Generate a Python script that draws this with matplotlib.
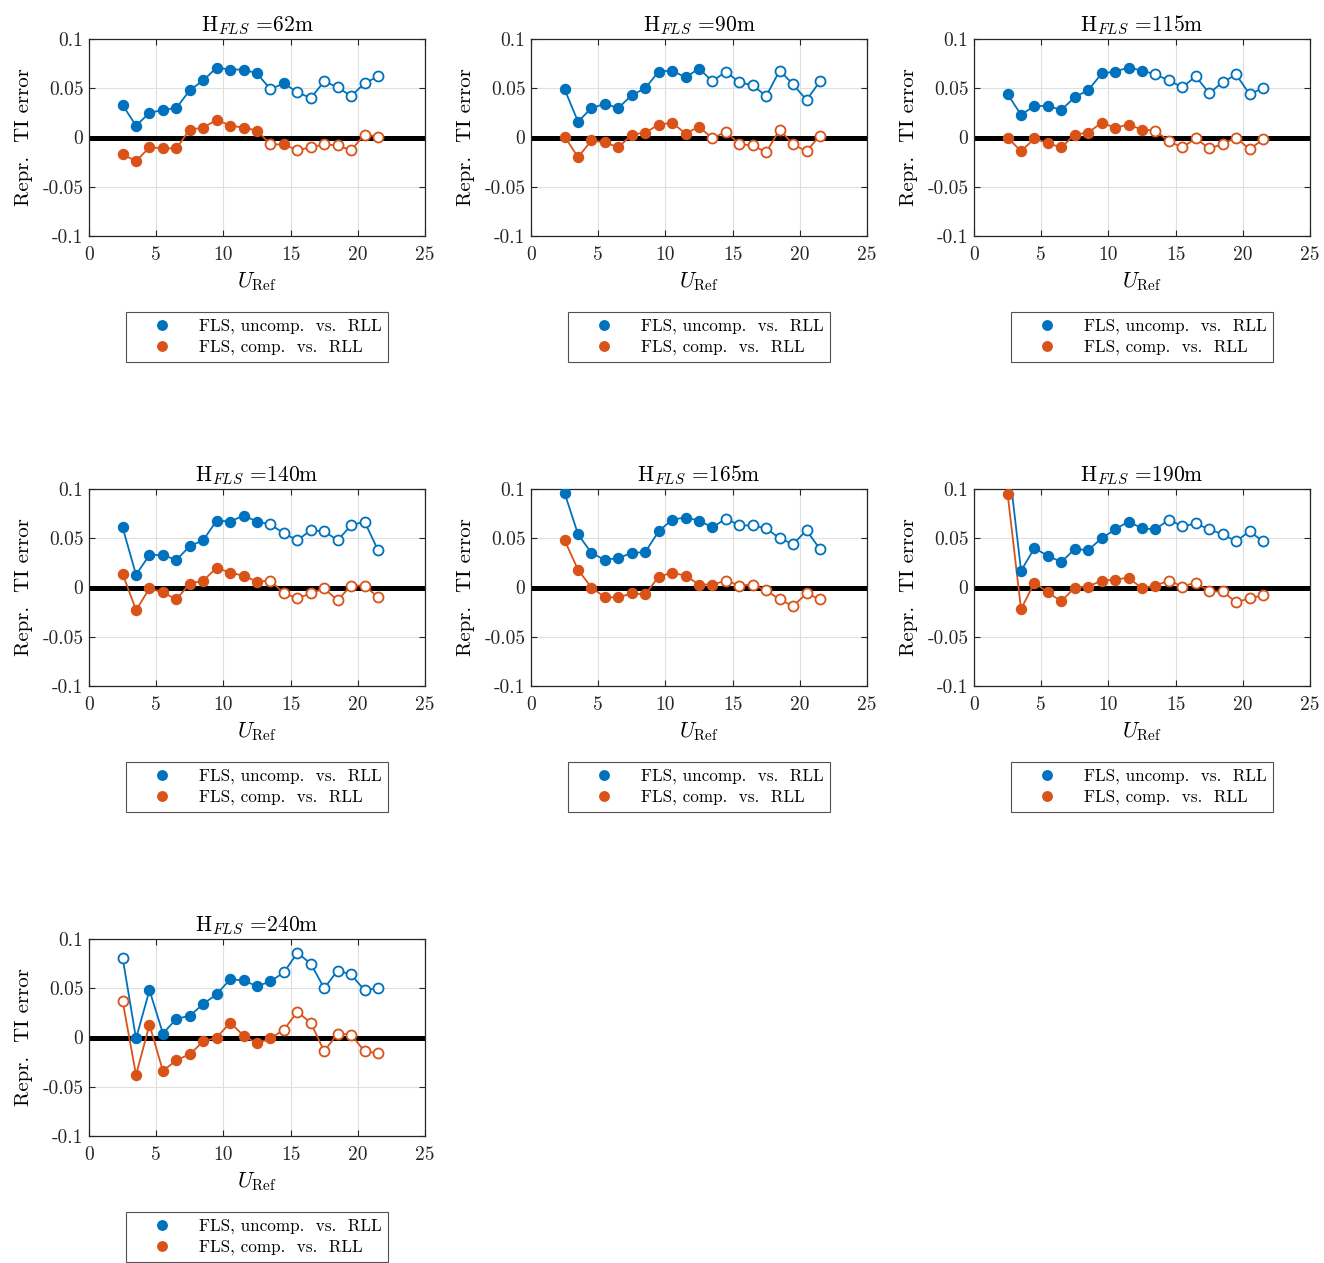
import numpy as np
import matplotlib
matplotlib.use('Agg')
import matplotlib.pyplot as plt
from matplotlib.lines import Line2D
from matplotlib.ticker import FuncFormatter

plt.rcParams['font.family'] = 'cmr10'
plt.rcParams['mathtext.fontset'] = 'cm'
plt.rcParams['axes.unicode_minus'] = False
plt.rcParams['axes.formatter.use_mathtext'] = True

BLUE = '#0072BD'
ORANGE = '#D95319'

# wind speed bins
u_ref = [2.5, 3.5, 4.5, 5.5, 6.5, 7.5, 8.5, 9.5, 10.5, 11.5,
         12.5, 13.5, 14.5, 15.5, 16.5, 17.5, 18.5, 19.5, 20.5, 21.5]

heights = [62, 90, 115, 140, 165, 190, 240]

# FLS, uncompensated vs RLL
uncomp = [
    [0.033, 0.012, 0.025, 0.028, 0.030, 0.048, 0.058, 0.071, 0.069, 0.069,
     0.065, 0.049, 0.055, 0.046, 0.040, 0.057, 0.051, 0.042, 0.055, 0.062],
    [0.049, 0.016, 0.030, 0.034, 0.030, 0.043, 0.050, 0.067, 0.068, 0.061,
     0.070, 0.057, 0.067, 0.056, 0.053, 0.042, 0.068, 0.054, 0.038, 0.057],
    [0.044, 0.023, 0.032, 0.032, 0.028, 0.041, 0.048, 0.065, 0.067, 0.071,
     0.068, 0.064, 0.058, 0.051, 0.062, 0.045, 0.056, 0.064, 0.044, 0.050],
    [0.061, 0.013, 0.033, 0.033, 0.028, 0.042, 0.048, 0.068, 0.067, 0.073,
     0.067, 0.064, 0.055, 0.048, 0.058, 0.057, 0.048, 0.063, 0.067, 0.038],
    [0.096, 0.054, 0.035, 0.028, 0.030, 0.035, 0.036, 0.057, 0.069, 0.071,
     0.068, 0.061, 0.070, 0.063, 0.063, 0.060, 0.050, 0.044, 0.058, 0.039],
    [0.135, 0.017, 0.040, 0.032, 0.026, 0.039, 0.038, 0.050, 0.059, 0.067,
     0.060, 0.059, 0.069, 0.062, 0.065, 0.059, 0.054, 0.047, 0.057, 0.047],
    [0.081, -0.001, 0.048, 0.004, 0.019, 0.022, 0.034, 0.044, 0.059, 0.058,
     0.052, 0.057, 0.066, 0.086, 0.075, 0.050, 0.068, 0.064, 0.048, 0.050],
]

# FLS, compensated vs RLL
comp = [
    [-0.017, -0.024, -0.010, -0.011, -0.011, 0.008, 0.010, 0.018, 0.012, 0.010,
     0.007, -0.007, -0.007, -0.013, -0.010, -0.007, -0.008, -0.013, 0.003, 0.001],
    [0.001, -0.020, -0.003, -0.005, -0.010, 0.003, 0.005, 0.013, 0.015, 0.004,
     0.011, -0.001, 0.006, -0.007, -0.008, -0.015, 0.008, -0.007, -0.014, 0.002],
    [0.000, -0.014, -0.001, -0.006, -0.010, 0.003, 0.005, 0.015, 0.010, 0.013,
     0.008, 0.007, -0.004, -0.010, -0.001, -0.011, -0.007, 0.000, -0.012, -0.002],
    [0.014, -0.023, -0.001, -0.005, -0.012, 0.004, 0.007, 0.020, 0.015, 0.012,
     0.006, 0.007, -0.006, -0.011, -0.006, -0.001, -0.013, 0.002, 0.002, -0.010],
    [0.048, 0.018, 0.000, -0.010, -0.010, -0.006, -0.007, 0.011, 0.015, 0.012,
     0.003, 0.003, 0.007, 0.002, 0.003, -0.003, -0.012, -0.019, -0.006, -0.012],
    [0.095, -0.022, 0.005, -0.005, -0.014, 0.000, 0.001, 0.007, 0.008, 0.010,
     -0.001, 0.002, 0.007, 0.001, 0.005, -0.004, -0.004, -0.015, -0.011, -0.008],
    [0.037, -0.038, 0.013, -0.034, -0.023, -0.017, -0.004, 0.000, 0.015, 0.002,
     -0.006, -0.001, 0.008, 0.026, 0.015, -0.014, 0.004, 0.003, -0.014, -0.016],
]

# which bins are drawn with filled markers
filled = [
    [1] * 11 + [0, 1] + [0] * 7,
    [1] * 11 + [0] * 9,
    [1] * 11 + [0] * 9,
    [1] * 11 + [0] * 9,
    [1] * 12 + [0] * 8,
    [1] * 12 + [0] * 8,
    [0] + [1] * 11 + [0] * 8,
]

W, H = 1324, 1263
fig = plt.figure(figsize=(W / 100, H / 100), dpi=100)

col_left = [89, 531, 974]
row_top = [39, 489, 939]
ax_w, ax_h = 336, 197


def draw_series(ax, x, y, mask, color):
    x = np.array(x)
    y = np.array(y)
    m = np.array(mask, dtype=bool)
    ax.plot(x, y, '-', color=color, lw=1.3, zorder=3)
    ax.plot(x[m], y[m], 'o', color=color, ms=7.2, mec=color, zorder=4)
    ax.plot(x[~m], y[~m], 'o', color=color, ms=7.2, mfc='white', mec=color,
            mew=1.3, zorder=4)


fmt = FuncFormatter(lambda v, p: '%g' % round(v, 3))

for i, h in enumerate(heights):
    r, c = divmod(i, 3)
    left = col_left[c] / W
    bottom = (H - row_top[r] - ax_h) / H
    ax = fig.add_axes([left, bottom, ax_w / W, ax_h / H])

    ax.axhline(0, color='black', lw=3.6, zorder=2)
    draw_series(ax, u_ref, uncomp[i], filled[i], BLUE)
    draw_series(ax, u_ref, comp[i], filled[i], ORANGE)

    ax.set_xlim(0, 25)
    ax.set_ylim(-0.1, 0.1)
    ax.set_xticks([0, 5, 10, 15, 20, 25])
    ax.set_yticks([-0.1, -0.05, 0, 0.05, 0.1])
    ax.yaxis.set_major_formatter(fmt)
    ax.xaxis.set_major_formatter(fmt)
    ax.grid(True, color='#DFDFDF', lw=0.8)
    ax.set_axisbelow(True)
    ax.tick_params(direction='in', top=True, right=True, length=4,
                   width=0.8, labelsize=14, colors='#262626', pad=4)
    ax.tick_params(axis='x', pad=7)
    ax.tick_params(labelcolor='#262626')
    for s in ax.spines.values():
        s.set_color('#262626')
        s.set_linewidth(0.9)

    ax.set_title(r'$\mathrm{H}_{FLS}$ =%dm' % h, fontsize=15.5, pad=6)
    ax.set_xlabel(r'$U_{\mathrm{Ref}}$', fontsize=15.5, labelpad=5)
    ax.set_ylabel('Repr.  TI error', fontsize=15, labelpad=7)

    handles = [
        Line2D([], [], marker='o', ls='none', color=BLUE, ms=6.8),
        Line2D([], [], marker='o', ls='none', color=ORANGE, ms=6.8),
    ]
    leg = ax.legend(handles, ['FLS, uncomp.  vs.  RLL', 'FLS, comp.  vs.  RLL'],
                    loc='center', bbox_to_anchor=(0.5, -101 / ax_h),
                    fontsize=12.3, frameon=True, fancybox=False,
                    handlelength=3.5, handletextpad=0.4, borderpad=0.4,
                    labelspacing=0.3, borderaxespad=0)
    leg.get_frame().set_edgecolor('#262626')
    leg.get_frame().set_linewidth(0.8)

fig.savefig('out.png', dpi=100)
